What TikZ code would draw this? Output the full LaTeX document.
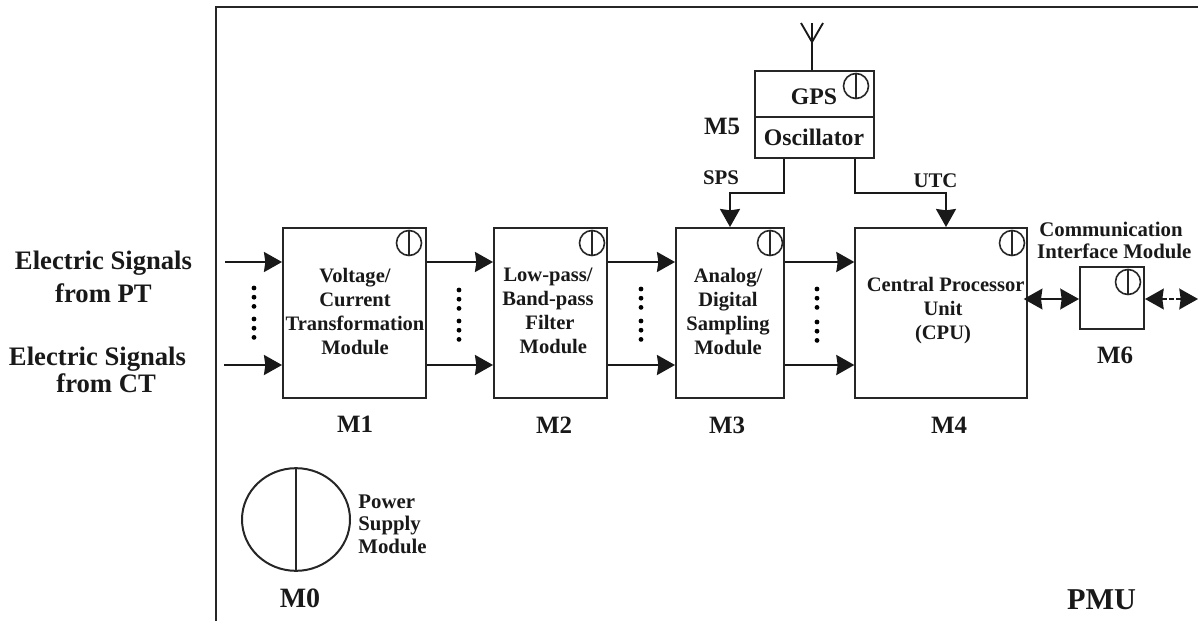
\documentclass[tikz,border=0pt]{standalone}
\usepackage{fontspec}
\setmainfont{Liberation Serif}
\usetikzlibrary{arrows.meta,shapes.geometric}
\tikzset{
  modbox/.style={draw=black!85,line width=1.5pt,inner sep=0pt,fill=white},
  wire/.style={draw=black!90,line width=1.6pt},
  arr/.style={wire,-{Stealth[length=13.5pt,width=15pt,inset=1pt]}},
  biarr/.style={wire,{Stealth[length=14pt,width=15.5pt,inset=1pt]}-{Stealth[length=14pt,width=15.5pt,inset=1pt]}},
  txt/.style={font=\bfseries\fontsize{15.4pt}{18pt}\selectfont,align=center,inner sep=0pt,text=black!90},
  small/.style={font=\bfseries\fontsize{15.6pt}{17pt}\selectfont,align=center,inner sep=0pt,text=black!90},
  gpstxt/.style={font=\bfseries\fontsize{17.8pt}{20pt}\selectfont,align=center,inner sep=0pt,text=black!90},
  big/.style={font=\bfseries\fontsize{18.7pt}{21pt}\selectfont,align=center,inner sep=0pt,text=black!90},
  sig/.style={font=\bfseries\fontsize{20pt}{24pt}\selectfont,align=center,inner sep=0pt,text=black!90},
  pwr/.style={draw=black!85,line width=1.2pt,circle,minimum size=18.75pt,inner sep=0pt},
  dotcol/.style={draw=black,line width=3.6pt,dash pattern=on 0pt off 6.9pt,line cap=round}
}
\newcommand{\pwrmark}[2]{\node[pwr] (#1) at (#2) {}; \draw[draw=black!85,line width=1.2pt] (#1.north) -- (#1.south);}
\begin{document}
\begin{tikzpicture}[x=0.75pt,y=-0.75pt]
\useasboundingbox (0,0) rectangle (1198,621);
% frame
\coordinate (fbl) at (216,621);
\coordinate (ftl) at (216,7);
\coordinate (ftr) at (1198,7);
\draw[draw=black!85,line width=1.9pt] (fbl) -- (ftl) -- (ftr);
% modules
\node[modbox,minimum width=107.25pt,minimum height=127.5pt] (m1) at (354.5,313) {};
\node[modbox,minimum width=84.75pt,minimum height=127.5pt] (m2) at (550.5,313) {};
\node[modbox,minimum width=81pt,minimum height=127.5pt] (m3) at (730,313) {};
\node[modbox,minimum width=128.5pt,minimum height=127.5pt] (m4) at (941,313) {};
\node[modbox,minimum width=48pt,minimum height=46.5pt] (m6) at (1112,298) {};
\node[modbox,minimum width=89.25pt,minimum height=65.25pt] (m5) at (814.5,114.5) {};
\coordinate (divl) at (755,117);
\draw[draw=black!85,line width=1.2pt] (divl) -- (divl -| m5.east);
% power marks
\pwrmark{p1}{409,243}
\pwrmark{p2}{592,243}
\pwrmark{p3}{770,243}
\pwrmark{p4}{1012,243}
\pwrmark{p6}{1128,282}
\pwrmark{p5}{856,86}
% antenna
\coordinate (ant) at (812,42);
\coordinate (antm) at (812,23);
\coordinate (antl) at (801,23);
\coordinate (antr) at (823,23);
\draw[wire,line width=1.4pt] (ant |- m5.north) -- (antm) (antl) -- (ant) -- (antr);
% signal rows
\coordinate (in1) at (225,262);
\coordinate (in2) at (224,365);
\coordinate (r1) at (0,262);
\coordinate (r2) at (0,365);
\draw[arr] (in1) -- (in1 -| m1.west);
\draw[arr] (in2) -- (in2 -| m1.west);
\draw[arr] (m1.east |- r1) -- (m2.west |- r1);
\draw[arr] (m1.east |- r2) -- (m2.west |- r2);
\draw[arr] (m2.east |- r1) -- (m3.west |- r1);
\draw[arr] (m2.east |- r2) -- (m3.west |- r2);
\draw[arr] (m3.east |- r1) -- (m4.west |- r1);
\draw[arr] (m3.east |- r2) -- (m4.west |- r2);
% dots
\coordinate (d1a) at (254,288); \coordinate (d1b) at (254,307); \coordinate (d1c) at (254,319); \coordinate (d1d) at (254,338);
\coordinate (d2a) at (459,290); \coordinate (d2b) at (459,309); \coordinate (d2c) at (459,321); \coordinate (d2d) at (459,340);
\coordinate (d3a) at (641,289); \coordinate (d3b) at (641,308); \coordinate (d3c) at (641,321); \coordinate (d3d) at (641,340);
\coordinate (d4a) at (817,289); \coordinate (d4b) at (817,308); \coordinate (d4c) at (817,322); \coordinate (d4d) at (817,341);
\draw[dotcol] (d1a) -- (d1b) (d1c) -- (d1d);
\draw[dotcol] (d2a) -- (d2b) (d2c) -- (d2d);
\draw[dotcol] (d3a) -- (d3b) (d3c) -- (d3d);
\draw[dotcol] (d4a) -- (d4b) (d4c) -- (d4d);
% GPS connectors
\coordinate (s1) at (784,193);
\coordinate (s2) at (730,193);
\coordinate (u1) at (855,193);
\coordinate (u2) at (946,193);
\draw[arr,line width=1.5pt] (s1 |- m5.south) -- (s1) -- (s2) -- (s2 |- m3.north);
\draw[arr,line width=1.5pt] (u1 |- m5.south) -- (u1) -- (u2) -- (u2 |- m4.north);
% power supply
\node[draw=black!85,line width=1.5pt,ellipse,minimum width=81pt,minimum height=77pt,inner sep=0pt] (m0c) at (296,519.5) {};
\draw[draw=black!85,line width=1.4pt] (m0c.north) -- (m0c.south);
% module text
\node[txt] (t1) at (355,311) {Voltage/\\Current\\Transformation\\Module};
\node[txt] (t2) at (550,311) {\hspace*{-3pt}Low-pass/\\\hspace*{-3pt}Band-pass\\Filter\\\hspace*{5pt}Module};
\node[txt] (t3) at (728,311) {Analog/\\Digital\\Sampling\\Module};
\node[txt] (t4) at (943,311) {\hspace*{4pt}Central Processor\\Unit\\(CPU)};
\node[gpstxt] (tg) at (814,97) {GPS};
\node[gpstxt] (to) at (814,137) {Oscillator};
\node[small] (tc) at (1111,240.5) {Communication\\\hspace*{5pt}Interface Module};
\node[small] (tsps) at (721,178) {SPS};
\node[small] (tutc) at (935.5,181) {UTC};
\node[big] (lm1) at (355,424) {M1};
\node[big] (lm2) at (554,425) {M2};
\node[big] (lm3) at (727,425) {M3};
\node[big] (lm4) at (949,425) {M4};
\node[big] (lm5) at (722,126) {M5};
\node[big] (lm6) at (1115,355) {M6};
\node[big,font=\bfseries\fontsize{21pt}{24pt}\selectfont] (lm0) at (300,598) {M0};
\node[big,font=\bfseries\fontsize{22.7pt}{26pt}\selectfont] (lpmu) at (1101.5,600) {PMU};
\node[small,align=left] (tps) at (392.5,524) {Power\\Supply\\Module};
\node[sig,font=\bfseries\fontsize{20pt}{24.75pt}\selectfont] (tpt) at (103.5,276.5) {Electric Signals\\from PT};
\node[sig,font=\bfseries\fontsize{20pt}{20.25pt}\selectfont] (tct) at (97.5,369.5) {Electric Signals\\\hspace*{13pt}from CT};
% M6 links
\coordinate (c6) at (0,299);
\coordinate (out6) at (1198,299);
\draw[biarr] ([xshift=-3pt]m4.east |- c6) -- (m6.west |- c6);
\draw[wire,dash pattern=on 4pt off 1.5pt,{Stealth[length=14pt,width=15.5pt,inset=1pt]}-{Stealth[length=14pt,width=15.5pt,inset=1pt]}] (m6.east |- out6) -- (out6);
\end{tikzpicture}
\end{document}
